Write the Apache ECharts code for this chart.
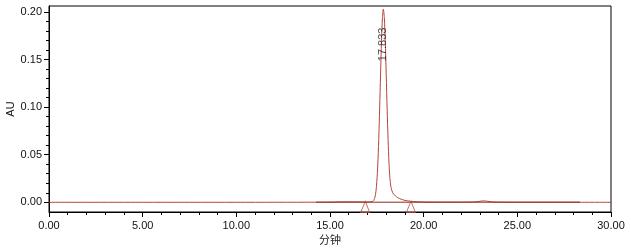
<!DOCTYPE html>
<html>
<head>
<meta charset="utf-8">
<script src="https://cdn.jsdelivr.net/npm/echarts@6/dist/echarts.min.js"></script>
<style>
  html, body { margin: 0; padding: 0; background: #fff; }
  #chart { width: 631px; height: 248px; }
</style>
</head>
<body>
<div id="chart"></div>
<script>
// chromatogram trace (minutes, AU)
var times = [0, 5, 10, 14.25, 15, 15.5, 16, 16.5, 17.0, 17.2, 17.3, 17.35, 17.4, 17.45, 17.5, 17.55, 17.6, 17.65,
  17.7, 17.75, 17.8, 17.845, 17.9, 17.95, 18.0, 18.05, 18.1, 18.15, 18.2, 18.25, 18.3, 18.35, 18.4, 18.5, 18.6,
  18.8, 19.0, 19.3, 19.6, 20.0, 21.0, 22.0, 22.8, 23.0, 23.2, 23.4, 23.6, 24.0, 25.0, 28.3, 28.4, 30];
var absorb = [0, 0, 0, 0.0001, 0.0002, 0.0004, 0.0005, 0.0004, 0.0004, 0.0006, 0.0012, 0.0025, 0.0055, 0.011, 0.022,
  0.039, 0.065, 0.098, 0.135, 0.170, 0.194, 0.203, 0.194, 0.170, 0.135, 0.098, 0.066, 0.041, 0.025, 0.0165, 0.0125,
  0.010, 0.0085, 0.0065, 0.005, 0.0032, 0.002, 0.0011, 0.0006, 0.0003, 0.0002, 0.0002, 0.0005, 0.0011, 0.0015, 0.0011,
  0.0005, 0.0002, 0.0001, 0.0001, 0, 0];

// integration baseline and its start/end marks
var baseTimes = [14.25, 28.35];
var baseValues = [0.0001, 0.0001];
var markTimes = [16.88, 19.32];
var markLevel = -0.0048;

// peak label
var peakTime = 17.845;
var peakLabel = '17.833';
var peakLabelLevel = 0.166;

var yTicks = [0, 0.05, 0.10, 0.15, 0.20];
var yMinor = [];
for (var v = 0; v <= 20; v++) yMinor.push(v / 100);

var trace = times.map(function (t, i) { return [t, absorb[i]]; });
var baseline = baseTimes.map(function (t, i) { return [t, baseValues[i]]; });
var marks = markTimes.map(function (t) { return [t, markLevel]; });

var chart = echarts.init(document.getElementById('chart'));
var font = 'Liberation Sans';
var option = {
  animation: false,
  grid: { left: 49, right: 20, top: 6, bottom: 36, show: true, borderColor: '#000', borderWidth: 1,
    containLabel: false, outerBoundsMode: 'none' },
  xAxis: {
    type: 'value', min: 0, max: 30, interval: 5,
    name: '分钟', nameLocation: 'middle', nameGap: 22, nameMoveOverlap: false,
    nameTextStyle: { fontFamily: 'Noto Sans CJK SC', fontSize: 11, color: '#222' },
    axisLine: { onZero: false, lineStyle: { color: '#000', width: 1 } },
    axisTick: { length: 5, lineStyle: { color: '#000' } },
    minorTick: { show: true, splitNumber: 5, length: 3, lineStyle: { color: '#000' } },
    axisLabel: { fontFamily: font, fontSize: 11, color: '#111', margin: 8,
      formatter: function (v) { return v.toFixed(2); } },
    splitLine: { show: false }
  },
  yAxis: [{
    type: 'value', min: -0.0102, max: 0.2063,
    name: 'AU', nameLocation: 'middle', nameGap: 33, nameRotate: 90, nameMoveOverlap: false,
    nameTextStyle: { fontFamily: font, fontSize: 11, color: '#111' },
    axisLine: { show: true, onZero: false, lineStyle: { color: '#000', width: 1 } },
    axisTick: { show: true, length: 5, customValues: yTicks, lineStyle: { color: '#000' } },
    axisLabel: { fontFamily: font, fontSize: 11, color: '#111', margin: 7, customValues: yTicks,
      formatter: function (v) { return v.toFixed(2); } },
    splitLine: { show: false }
  }, {
    type: 'value', min: -0.0102, max: 0.2063, position: 'left',
    axisLine: { show: false },
    axisTick: { show: true, length: 3, customValues: yMinor, lineStyle: { color: '#000' } },
    axisLabel: { show: false },
    splitLine: { show: false }
  }],
  series: [{
    type: 'line', data: trace, symbol: 'none', smooth: 0.3,
    lineStyle: { color: '#b5443a', width: 1 }, z: 3
  }, {
    type: 'line', data: baseline, symbol: 'none',
    lineStyle: { color: '#8a2a22', width: 1 }, z: 4
  }, {
    type: 'scatter', data: marks, symbol: 'triangle', symbolSize: [9, 11],
    itemStyle: { color: 'rgba(0,0,0,0)', borderColor: '#b5443a', borderWidth: 1 }, z: 5
  }, {
    type: 'scatter', data: [[peakTime, peakLabelLevel]], symbolSize: 0,
    label: { show: true, position: 'inside', rotate: 90, formatter: peakLabel,
      fontFamily: font, fontSize: 11, color: '#222' }, z: 6
  }]
};
chart.setOption(option);
</script>
</body>
</html>
